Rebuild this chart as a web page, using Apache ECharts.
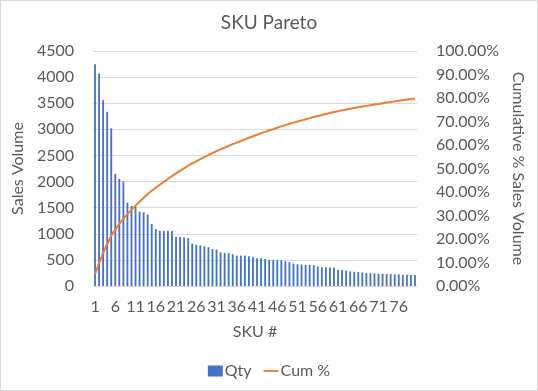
<!DOCTYPE html>
<html>
<head>
<meta charset="utf-8">
<script src="https://cdn.jsdelivr.net/npm/echarts@6/dist/echarts.min.js"></script>
<style>
html,body{margin:0;padding:0;background:#fff;}
#chart{width:536px;height:389px;border:1px solid #d9d9d9;}
</style>
</head>
<body>
<div id="chart"></div>
<script>
// SKU numbers 1..80
const skuLabels = [];
for (let i = 1; i <= 80; i++) skuLabels.push(String(i));

// Quantity per SKU
const qty = [
  4247, 4070, 3557, 3335, 3019, 2146, 2051, 2000, 1595, 1532,
  1519, 1424, 1411, 1367, 1190, 1089, 1057, 1057, 1057, 1051,
  943, 937, 930, 918, 810, 785, 778, 760, 741, 709,
  696, 646, 633, 627, 608, 582, 582, 582, 570, 551,
  532, 532, 519, 500, 494, 494, 494, 475, 456, 429,
  417, 411, 404, 404, 398, 373, 360, 360, 354, 348,
  310, 304, 297, 278, 272, 266, 259, 247, 247, 240,
  234, 234, 228, 228, 222, 222, 215, 215, 209, 209
];

// Total sales volume across all SKUs (including those not shown)
const totalQty = 85000;

// Cumulative share of total sales volume
const cumPct = [];
let running = 0;
for (const q of qty) { running += q; cumPct.push(running / totalQty); }

const leftTicks = { min: 0, max: 4500, interval: 500 };
const rightTicks = { min: 0, max: 1, interval: 0.1 };

const txt = '#595959';
const font = 'Lato, "Open Sans", sans-serif';

const chart = echarts.init(document.getElementById('chart'));
chart.setOption({
  animation: false,
  textStyle: { fontFamily: font, color: txt },
  title: {
    text: 'SKU Pareto', left: 'center', top: 7,
    textStyle: { fontFamily: font, fontSize: 19, fontWeight: 'normal', color: txt }
  },
  legend: {
    bottom: 6, left: 'center', itemGap: 12, itemWidth: 15, itemHeight: 11,
    textStyle: { fontFamily: font, fontSize: 16, color: txt, padding: [0, 0, 0, -3] },
    data: [
      { name: 'Qty', icon: 'rect' },
      { name: 'Cum %', icon: 'path://M0,0 L16,0 L16,2 L0,2 Z', itemStyle: { color: '#ED7D31' } }
    ]
  },
  grid: { left: 92, right: 120, top: 50, bottom: 104 },
  xAxis: {
    type: 'category',
    data: skuLabels,
    name: 'SKU #',
    nameLocation: 'middle',
    nameGap: 38,
    nameTextStyle: { fontFamily: font, fontSize: 16, color: txt },
    axisLine: { lineStyle: { color: '#d9d9d9' } },
    axisTick: { show: false },
    axisLabel: { interval: 4, fontFamily: font, fontSize: 16, color: txt, margin: 13 }
  },
  yAxis: [
    {
      type: 'value', min: leftTicks.min, max: leftTicks.max, interval: leftTicks.interval,
      name: 'Sales Volume', nameLocation: 'middle', nameGap: 58, nameRotate: 90,
      nameTextStyle: { fontFamily: font, fontSize: 16, color: txt },
      axisLine: { show: false }, axisTick: { show: false },
      axisLabel: { fontFamily: font, fontSize: 16, color: txt, margin: 19, formatter: v => String(v) },
      splitLine: { lineStyle: { color: '#d9d9d9' } }
    },
    {
      type: 'value', min: rightTicks.min, max: rightTicks.max, interval: rightTicks.interval,
      name: 'Cumulative % Sales Volume', nameLocation: 'middle', nameGap: 90, nameRotate: -90,
      nameTextStyle: { fontFamily: font, fontSize: 16, color: txt },
      axisLine: { show: false }, axisTick: { show: false },
      axisLabel: {
        fontFamily: font, fontSize: 16, color: txt, margin: 19,
        formatter: v => (v * 100).toFixed(2) + '%'
      },
      splitLine: { show: false }
    }
  ],
  series: [
    {
      name: 'Qty', type: 'bar', data: qty, barWidth: '45%',
      itemStyle: { color: '#4472C4' }
    },
    {
      name: 'Cum %', type: 'line', yAxisIndex: 1, data: cumPct,
      showSymbol: false, symbol: 'none',
      lineStyle: { color: '#ED7D31', width: 2 },
      itemStyle: { color: '#ED7D31' }
    }
  ]
});
</script>
</body>
</html>
